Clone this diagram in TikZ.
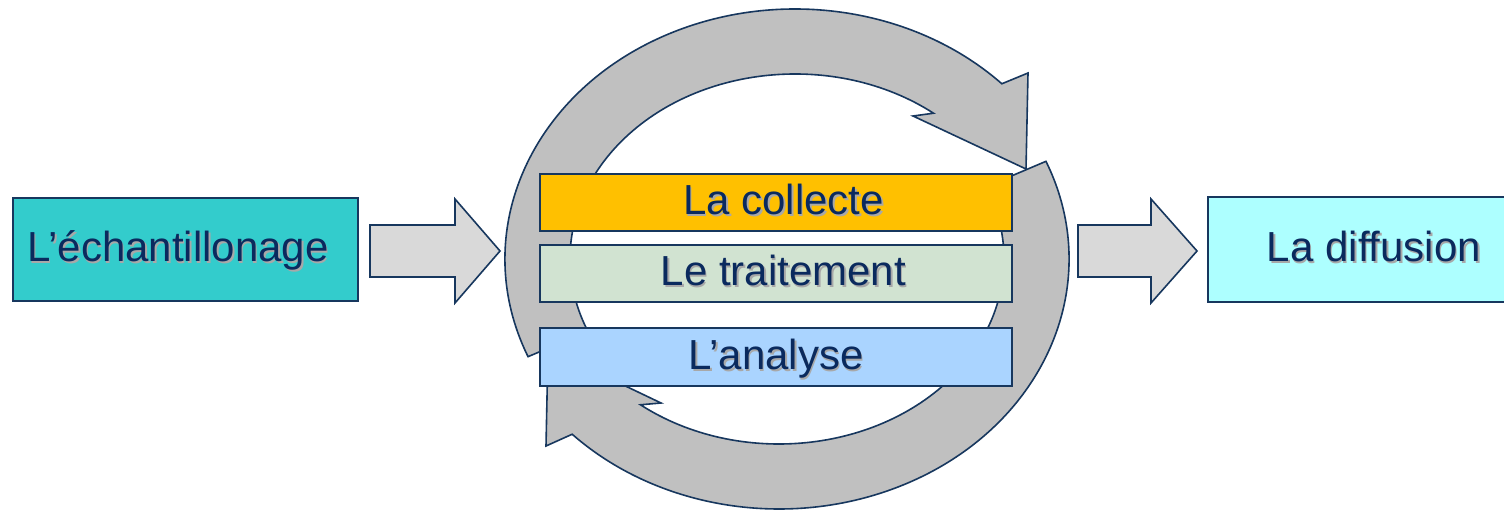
\documentclass[tikz,border=0pt]{standalone}
\usepackage{fontspec}
\setmainfont{Liberation Sans}
\definecolor{navy}{HTML}{17375E}
\definecolor{txt}{HTML}{0A2A5E}
\definecolor{shd}{HTML}{A8A8A8}
\definecolor{ringgray}{HTML}{C0C0C0}
\definecolor{arrgray}{HTML}{D9D9D9}
\definecolor{tealbox}{HTML}{33CCCC}
\definecolor{cyanbox}{HTML}{ADFFFF}
\definecolor{orangebox}{HTML}{FFC000}
\definecolor{greenbox}{HTML}{D1E3D1}
\definecolor{bluebox}{HTML}{AAD4FF}
\newcommand\shtxt[1]{\rlap{\kern1.6pt\raisebox{-1.6pt}{\textcolor{shd}{#1}}}\textcolor{txt}{#1}}
\tikzset{
  box/.style={draw=navy, line width=1.6pt, inner sep=0pt, text height=30pt, text depth=5pt,
    font=\fontsize{42}{50}\selectfont},
  ringarrow/.style={draw=navy, fill=ringgray, line width=1.6pt, line join=miter},
  blockarrow/.style={draw=navy, fill=arrgray, line width=1.6pt, line join=miter}
}
\begin{document}
\begin{tikzpicture}[x=1pt,y=1pt]
\useasboundingbox (0,0) rectangle (1504,509);
\fill[white] (0,0) rectangle (1504,509);

% circular arrows
\path[ringarrow] (528.05,152.32) arc[start angle=203,end angle=44.5,x radius=290pt,y radius=250pt]
  -- (1028,436) -- (1026,340) -- (913,393) -- (933.52,395.78)
  arc[start angle=52,end angle=203,x radius=225pt,y radius=185pt] -- cycle;
\path[ringarrow] (1045.95,347.68) arc[start angle=23,end angle=-135.5,x radius=290pt,y radius=250pt]
  -- (546,63) -- (548,160) -- (661,106) -- (640.48,104.22)
  arc[start angle=232,end angle=383,x radius=225pt,y radius=185pt] -- cycle;

% block arrows
\path[blockarrow] (370,232) -- (455,232) -- (455,206) -- (500,258) -- (455,310) -- (455,284) -- (370,284) -- cycle;
\path[blockarrow] (1078,232) -- (1151,232) -- (1151,206) -- (1197,258) -- (1151,310) -- (1151,284) -- (1078,284) -- cycle;

% boxes
\node[box, fill=tealbox, minimum width=345pt, minimum height=103pt] (samp) at (185.5,259.5) {\shtxt{L’échantillonage}\hspace*{15pt}};
\node[box, fill=cyanbox, minimum width=332pt, minimum height=105pt] (diff) at (1374,259.5) {\shtxt{La diffusion}};
\node[box, fill=orangebox, minimum width=472pt, minimum height=57pt] (coll) at (776,306.5) {\hspace*{15pt}\shtxt{La collecte}};
\node[box, fill=greenbox, minimum width=472pt, minimum height=57pt] (trait) at (776,235.5) {\hspace*{15pt}\shtxt{Le traitement}};
\node[box, fill=bluebox, minimum width=472pt, minimum height=58pt] (anal) at (776,152) {\shtxt{L’analyse}};
\end{tikzpicture}
\end{document}
